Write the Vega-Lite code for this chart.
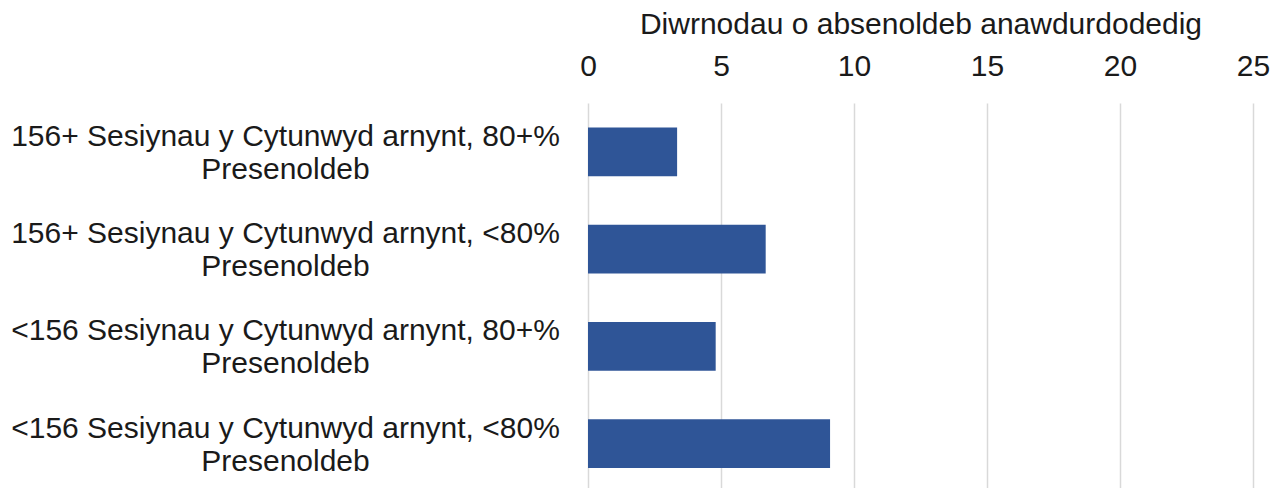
{
  "$schema": "https://vega.github.io/schema/vega-lite/v6.json",
  "autosize": "none",
  "padding": {"left": 588, "top": 103, "right": 30, "bottom": 0},
  "width": 665,
  "height": 385,
  "background": "white",
  "config": {"view": {"stroke": null}, "font": "Liberation Sans"},
  "data": {"values": [
    {"group": "156+ Sesiynau y Cytunwyd arnynt, 80+%|Presenoldeb", "days": 3.35},
    {"group": "156+ Sesiynau y Cytunwyd arnynt, <80%|Presenoldeb", "days": 6.68},
    {"group": "<156 Sesiynau y Cytunwyd arnynt, 80+%|Presenoldeb", "days": 4.8},
    {"group": "<156 Sesiynau y Cytunwyd arnynt, <80%|Presenoldeb", "days": 9.1}
  ]},
  "mark": {"type": "bar", "color": "#2f5597"},
  "encoding": {
    "y": {
      "field": "group", "type": "nominal", "sort": null,
      "scale": {"paddingInner": 0.5, "paddingOuter": 0.23, "align": 0.55},
      "axis": {
        "title": null, "domain": false, "ticks": false,
        "labelExpr": "split(datum.label, '|')",
        "labelAlign": "center", "labelBaseline": "middle",
        "labelPadding": 303, "labelFontSize": 30, "labelLineHeight": 33,
        "labelOffset": -15,
        "labelColor": "#1a1a1a", "labelLimit": 0
      }
    },
    "x": {
      "field": "days", "type": "quantitative",
      "scale": {"domain": [0, 25], "nice": false},
      "axis": {
        "orient": "top", "title": "Diwrnodau o absenoldeb anawdurdodedig",
        "titleFontSize": 30, "titleFontWeight": "normal", "titleColor": "#1a1a1a",
        "titlePadding": 12,
        "values": [0, 5, 10, 15, 20, 25],
        "domain": false, "ticks": false, "labelPadding": 22, "labelFlush": false,
        "labelFontSize": 30, "labelColor": "#1a1a1a",
        "grid": true, "gridColor": "#d9d9d9", "gridWidth": 1.5
      }
    }
  }
}
